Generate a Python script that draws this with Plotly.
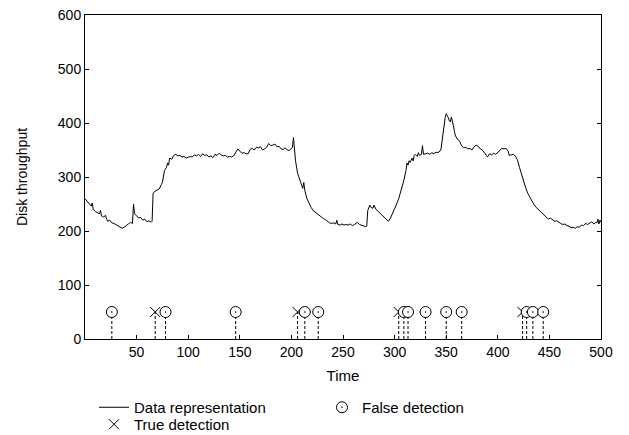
import plotly.graph_objects as go

# ---- data ----
time = [0, 2, 4, 6, 7, 8, 10, 12, 14, 15, 16, 18, 20, 21, 22, 24, 26, 28, 30, 32, 34, 36, 38, 40, 42, 44, 46, 47, 48, 50,
        52, 54, 56, 58, 60, 62, 64, 65, 66, 68, 70, 72, 74, 75, 77, 78, 79, 80, 81, 82, 84, 86, 88, 90, 92, 94, 96, 98, 100,
        102, 104, 106, 108, 110, 112, 114, 116, 118, 120, 122, 124, 126, 128, 130, 132, 134, 136, 138, 140, 142, 144, 146,
        148, 150, 152, 154, 156, 158, 160, 162, 164, 166, 168, 170, 172, 174, 176, 178, 180, 182, 184, 186, 188, 190, 192,
        194, 196, 198, 200, 201, 202, 203, 204, 206, 208, 210, 211, 212, 213, 215, 217, 219, 221, 223, 225, 227, 229, 231,
        233, 235, 237, 239, 241, 243, 244, 245, 247, 249, 251, 253, 255, 257, 259, 261, 263, 264, 266, 268, 270, 272, 273,
        274, 276, 277, 279, 280, 282, 284, 286, 288, 290, 292, 294, 296, 298, 300, 302, 304, 306, 308, 309, 311, 312, 313,
        314, 315, 317, 318, 319, 320, 322, 323, 324, 326, 327, 328, 330, 332, 334, 336, 338, 340, 342, 344, 345, 347, 349,
        350, 351, 352, 353, 354, 355, 356, 357, 358, 359, 361, 363, 365, 367, 369, 371, 373, 375, 377, 379, 381, 383, 385,
        387, 389, 390, 392, 394, 396, 398, 400, 402, 404, 406, 408, 410, 411, 413, 415, 417, 419, 421, 423, 425, 427, 429,
        431, 433, 435, 437, 439, 441, 443, 445, 447, 449, 451, 453, 455, 457, 459, 461, 463, 465, 467, 469, 471, 473, 475,
        477, 479, 481, 483, 485, 487, 489, 491, 493, 495, 496, 497, 498, 499, 500]
throughput = [260, 255, 250, 246, 252, 240, 236, 234, 232, 238, 228, 226, 229, 222, 218, 220, 215, 214, 212, 210, 208, 205, 207,
              211, 213, 216, 214, 250, 232, 228, 224, 225, 220, 222, 217, 219, 216, 218, 270, 274, 276, 278, 286, 290, 312, 316,
              318, 326, 322, 335, 333, 340, 342, 339, 340, 337, 338, 335, 336, 338, 337, 341, 339, 342, 338, 343, 340, 341, 337,
              339, 336, 342, 340, 344, 341, 339, 340, 337, 338, 337, 339, 347, 352, 348, 344, 345, 343, 343, 351, 353, 350, 355,
              354, 356, 350, 352, 355, 362, 358, 359, 361, 356, 357, 352, 351, 354, 350, 349, 352, 355, 373, 350, 330, 307, 295,
              283, 279, 290, 275, 260, 251, 244, 238, 235, 231, 228, 225, 223, 221, 218, 215, 214, 215, 213, 220, 212, 211, 213,
              211, 212, 211, 213, 210, 212, 214, 216, 212, 211, 210, 208, 209, 238, 248, 244, 242, 248, 240, 236, 232, 228, 225,
              222, 218, 224, 232, 240, 250, 260, 272, 288, 294, 312, 326, 322, 330, 327, 335, 330, 340, 342, 338, 345, 340, 342,
              358, 342, 343, 344, 342, 345, 343, 346, 345, 348, 352, 385, 410, 417, 414, 410, 404, 402, 411, 405, 395, 384, 376,
              370, 366, 358, 354, 355, 352, 353, 350, 356, 359, 357, 352, 350, 346, 340, 337, 343, 341, 344, 342, 346, 350, 353,
              352, 353, 348, 340, 341, 342, 339, 332, 318, 304, 290, 280, 270, 262, 255, 249, 244, 240, 236, 232, 228, 226, 222,
              224, 220, 218, 219, 216, 214, 212, 213, 210, 209, 206, 207, 205, 208, 207, 211, 210, 214, 212, 215, 217, 213, 216,
              215, 222, 213, 220, 216]

true_detection = [68, 206, 304, 424]
false_detection = [26, 78, 146, 213, 226, 309, 313, 330, 350, 365, 428, 434, 444]
marker_level = 50

x_ticks = [50, 100, 150, 200, 250, 300, 350, 400, 450, 500]
y_ticks = [0, 100, 200, 300, 400, 500, 600]

FONT = "Liberation Sans, Arial, Helvetica, sans-serif"

fig = go.Figure()

# dashed drop lines for detections
all_det = sorted(true_detection + false_detection)
dx, dy = [], []
for t in all_det:
    dx += [t, t, None]
    dy += [0, marker_level, None]
fig.add_trace(go.Scatter(x=dx, y=dy, mode="lines", line=dict(color="black", width=1, dash="3px,2px"),
                         showlegend=False, hoverinfo="skip"))

fig.add_trace(go.Scatter(x=time, y=throughput, mode="lines", name="Data representation",
                         line=dict(color="black", width=1), legend="legend"))

fig.add_trace(go.Scatter(x=true_detection, y=[marker_level] * len(true_detection), mode="markers",
                         name="True detection",
                         marker=dict(symbol="x-thin-open", size=10, color="black", line=dict(color="black", width=1)),
                         legend="legend3"))

fig.add_trace(go.Scatter(x=false_detection, y=[marker_level] * len(false_detection), mode="markers",
                         name="False detection",
                         marker=dict(symbol="circle-dot", size=11, color="white", line=dict(color="black", width=1)),
                         legend="legend2"))

leg_common = dict(xref="container", yref="container", xanchor="left", yanchor="top", orientation="v",
                  bgcolor="rgba(0,0,0,0)", font=dict(size=15), itemwidth=30)

fig.update_layout(
    width=629, height=435,
    margin=dict(l=85, r=28, t=15, b=96, autoexpand=False),
    plot_bgcolor="white", paper_bgcolor="white",
    font=dict(family=FONT, size=14, color="black"),
    xaxis=dict(range=[0, 500], tickvals=x_ticks, ticks="inside", ticklen=4, tickcolor="black",
               showline=True, linecolor="black", linewidth=1, mirror=True, showgrid=False, zeroline=False,
               tickfont=dict(size=14),
               title=dict(text="Time", standoff=11, font=dict(size=15))),
    yaxis=dict(range=[0, 600], tickvals=y_ticks, ticks="inside", ticklen=4, tickcolor="black",
               showline=True, linecolor="black", linewidth=1, mirror="ticks", showgrid=False, zeroline=False,
               tickfont=dict(size=14)),
    annotations=[dict(text="Disk throughput", textangle=-90, xref="paper", yref="paper",
                      x=(22 - 85) / 516, y=0.5, xanchor="center", yanchor="middle", showarrow=False,
                      font=dict(size=14))],
    legend=dict(x=94 / 629, y=1 - 391 / 435, **leg_common),
    legend3=dict(x=94 / 629, y=1 - 408 / 435, **leg_common),
    legend2=dict(x=322 / 629, y=1 - 391 / 435, **leg_common),
)

fig.write_html("out.html")
